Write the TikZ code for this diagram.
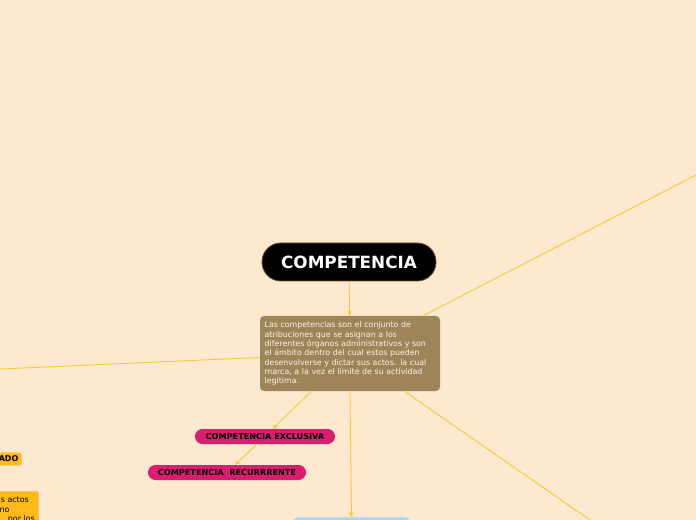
\documentclass[tikz,border=0pt]{standalone}
\usepackage{fontspec}
\setmainfont{DejaVu Sans}
\usetikzlibrary{arrows}

\definecolor{bgpeach}{RGB}{253,232,208}
\definecolor{rootline}{RGB}{120,80,30}
\definecolor{descbrown}{RGB}{158,133,89}
\definecolor{desctext}{RGB}{250,245,235}
\definecolor{pillpink}{RGB}{216,30,110}
\definecolor{linkyellow}{RGB}{248,200,30}
\definecolor{tagorange}{RGB}{255,185,25}
\definecolor{boxblue}{RGB}{166,215,240}

\tikzset{
  link/.style={draw=linkyellow, line width=0.6pt},
  pill/.style={fill=pillpink, rounded corners=5.6pt, minimum height=11.25pt,
    inner sep=0pt, font=\fontsize{6.1}{7}\selectfont\bfseries},
  tag/.style={fill=tagorange, rounded corners=1.5pt, inner sep=2.5pt,
    font=\fontsize{5.9}{7}\selectfont},
}

\begin{document}
\begin{tikzpicture}[x=0.75pt, y=-0.75pt, >=stealth]
      \useasboundingbox (0,0) rectangle (696,520);
      \clip (0,0) rectangle (696,520);
      \fill[bgpeach] (0,0) rectangle (696,520);

      % main nodes
      \node[fill=black, draw=rootline, line width=0.6pt, rounded corners=14pt,
        minimum width=130.5pt, minimum height=28.5pt, text=white,
        font=\fontsize{12.6}{14}\selectfont\bfseries] (root) at (349,262) {COMPETENCIA};
      \node[fill=descbrown, rounded corners=3pt, minimum width=135pt, minimum height=56.25pt,
        text width=128pt, inner sep=3.5pt, align=left, text=desctext,
        font=\fontsize{5.9}{7}\selectfont] (desc) at (350,353.5)
        {Las competencias son el conjunto de\\
         atribuciones que se asignan a los\\
         diferentes órganos administrativos y son\\
         el ámbito dentro del cual estos pueden\\
         desenvolverse y dictar sus actos. la cual\\
         marca, a la vez el límite de su actividad\\
         legitima.};

      \node[pill, minimum width=105pt] (excl) at (265,436.5) {COMPETENCIA EXCLUSIVA};
      \node[pill, minimum width=118.5pt] (recur) at (227,472.5) {COMPETENCIA\ \ RECURRRENTE};

      % cut off at the edges
      \node[tag, anchor=east, text width=40pt, align=right,
        font=\fontsize{6}{7}\selectfont\bfseries] (deleg) at (22,459) {ADO};
      \node[tag, anchor=north east, text width=50pt, align=right, inner xsep=3pt,
        inner ysep=4.5pt] (actos) at (39,491)
        {s actos\rule{4.5pt}{0pt}\\ no\rule{19pt}{0pt}\\ por los};
      \node[fill=boxblue, rounded corners=5pt, anchor=north, minimum width=89pt,
        minimum height=22pt] (blue) at (351.5,517) {};

      \coordinate (offright) at (696,175);
      \coordinate (offleft) at (0,369);
      \coordinate (offdown) at (590,520);

      % connectors
      \draw[link, ->] (root) -- (desc);
      \draw[link, ->] (desc) -- (excl);
      \draw[link, ->] (excl) -- (recur);
      \draw[link, ->] (desc.south) -- (blue.north);
      \draw[link] (desc) -- (offright);
      \draw[link] (desc) -- (offleft);
      \draw[link] (desc) -- (offdown);

      \end{tikzpicture}
\end{document}
